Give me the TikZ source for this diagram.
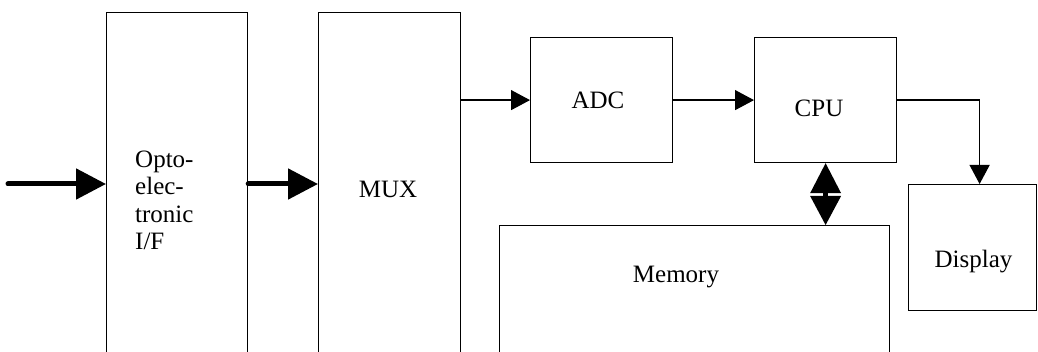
\documentclass[tikz,border=0pt]{standalone}
\usepackage{fontspec}
\setmainfont{Liberation Serif}
\usetikzlibrary{arrows.meta}
\begin{document}
\begin{tikzpicture}[x=1pt,y=-1pt,
  block/.style={draw, line width=1.2pt, inner sep=0pt, anchor=north west},
  lbl/.style={font=\fontsize{25}{27.5}\selectfont, inner sep=0pt},
  thinarrow/.style={line width=1.2pt, -{Triangle[length=19pt,width=20pt]}},
  heavyarrow/.style={line width=5pt, line cap=round, -{Triangle[length=30pt,width=30pt]}},
]
\useasboundingbox (0,0) rectangle (1038,352);
\clip (0,0) rectangle (1038,352);

% blocks
\node[block, minimum width=141pt, minimum height=400pt] (opto) at (106,12) {};
\node[block, minimum width=142pt, minimum height=400pt] (mux) at (318,12) {};
\node[block, minimum width=142pt, minimum height=125pt] (adc) at (530,37) {};
\node[block, minimum width=142pt, minimum height=125pt] (cpu) at (754,37) {};
\node[block, minimum width=128pt, minimum height=126pt] (disp) at (908,184) {};
\node[block, minimum width=390pt, minimum height=300pt] (mem) at (499,225) {};

% labels
\node[lbl, anchor=base] (tadc) at (598,109) {ADC};
\node[lbl, anchor=base] (tcpu) at (819,117) {CPU};
\node[lbl, anchor=base] (tmux) at (388,198) {MUX};
\node[lbl, anchor=base] (tdisp) at (973.5,268) {Display};
\node[lbl, anchor=base] (tmem) at (676,283) {Memory};
\node[lbl, anchor=base west, align=left] (topto) at (135,250) {Opto-\\elec-\\tronic\\I/F};

% signal path
\coordinate (src) at (8,184);
\draw[heavyarrow] (src) -- (opto.west |- src);
\draw[heavyarrow] (opto.east |- src) -- (mux.west |- src);
\draw[thinarrow] (mux.east |- adc.west) -- (adc.west);
\draw[thinarrow] (adc.east) -- (cpu.west);
\draw[thinarrow] (cpu.east) -| ([xshift=7pt]disp.north);

% bidirectional CPU / memory bus: two heads joined by a short shaft
\coordinate (busTop) at (cpu.south);
\coordinate (busBot) at (cpu.south |- mem.north);
\fill (busTop) -- ++(15.5,30) -- ++(-31,0) -- cycle;
\fill (busBot) -- ++(15.5,-29) -- ++(-31,0) -- cycle;
\fill (busTop) ++(-2.5,25) rectangle ++(5,13);
\end{tikzpicture}
\end{document}
